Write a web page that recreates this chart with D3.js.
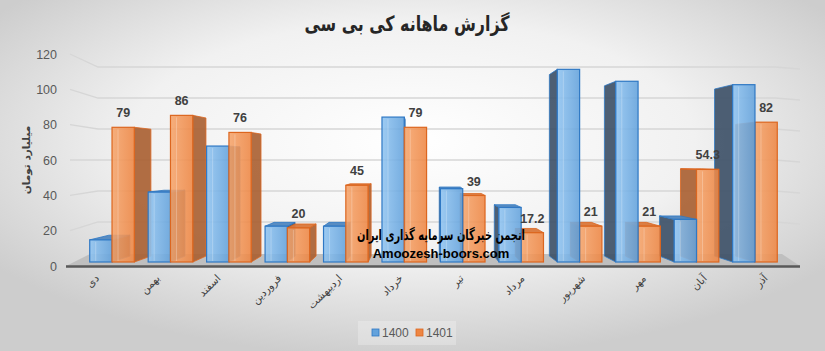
<!DOCTYPE html>
<html>
<head>
	<meta charset="utf-8">
	<title>گزارش ماهانه کی بی سی</title>
	<script src="https://d3js.org/d3.v7.min.js"></script>
	<style>
		body { margin: 0; }
	</style>
</head>
<body>
	<div class="chart"></div>

	<script type="text/javascript">

		// ماه ها
		const months = ['دی', 'بهمن', 'اسفند', 'فروردین', 'اردیبهشت', 'خرداد', 'تیر', 'مرداد', 'شهریور', 'مهر', 'آبان', 'آذر']

		// سری ها
		const seriesNames = ['1400', '1401']
		const values1400 = [13, 41, 68, 21, 21, 85, 43, 32, 113, 106, 25, 104]
		const values1401 = [79, 86, 76, 20, 45, 79, 39, 17.2, 21, 21, 54.3, 82]

		const yTicks = [0, 20, 40, 60, 80, 100, 120]

		var width = 825
		var height = 351

		// نقطه گریز برای نمای سه بعدی
		const vp = [420, 160]
		const depth = 0.058

		const colors = {
			'1400': { front1: '#90c4f1', front2: '#63a2dc', stroke: '#2f78c4', side: '#3b4f66', top: '#4f86bf' },
			'1401': { front1: '#f6a56c', front2: '#ee8643', stroke: '#dc661f', side: '#a85e30', top: '#d9773a' }
		}

		var svg = d3
			.select('.chart')
			.append('svg')
			.attr('width', width)
			.attr('height', height)

		const defs = svg.append('defs')
		const bg = defs.append('radialGradient').attr('id', 'bg').attr('cx', '50%').attr('cy', '40%').attr('r', '62%')
		bg.append('stop').attr('offset', '0%').attr('stop-color', '#ffffff')
		bg.append('stop').attr('offset', '55%').attr('stop-color', '#f1f1f1')
		bg.append('stop').attr('offset', '100%').attr('stop-color', '#cdcdcd')

		seriesNames.forEach(s => {
			const g = defs.append('linearGradient').attr('id', 'grad' + s).attr('x1', '0%').attr('x2', '100%')
			g.append('stop').attr('offset', '0%').attr('stop-color', colors[s].front1)
			g.append('stop').attr('offset', '100%').attr('stop-color', colors[s].front2)
		})

		svg.append('rect').attr('width', width).attr('height', height).attr('fill', 'url(#bg)')

		/**
		 * 比例尺
		 */
		const x = d3.scaleBand()
			.domain(months)
			.range([82.8, 784.2])
			.paddingInner(0.237)
			.paddingOuter(0.1185)

		const xSub = d3.scaleBand()
			.domain(seriesNames)
			.range([0, x.bandwidth()])

		// محور جلو (برچسب ها)
		const yAxisScale = d3.scaleLinear().domain([0, 120]).range([266, 54])
		// دیوار پشتی (خطوط شبکه)
		const yBack = d3.scaleLinear().domain([0, 120]).range([253, 67])
		// صفحه جلوی ستون ها
		const yBar = d3.scaleLinear().domain([0, 120]).range([262, 57.4])

		function proj(px, py, d) {
			return [px + (vp[0] - px) * d, py + (vp[1] - py) * d]
		}

		/**
		 * خطوط شبکه و کف
		 */
		const grid = svg.append('g')
		grid.selectAll('path')
			.data(yTicks.filter(t => t > 0))
			.enter()
			.append('path')
			.attr('fill', 'none')
			.attr('stroke', '#d6d6d6')
			.attr('stroke-width', 1.3)
			.attr('d', t => d3.line()([[70, yAxisScale(t)], [98, yBack(t)], [775, yBack(t)], [800, yBack(t) + 2]]))

		svg.append('path')
			.attr('fill', '#bfbfbf')
			.attr('d', d3.line()([[66, 266], [90, 254], [782, 254], [800, 266]]) + 'Z')

		svg.append('line')
			.attr('x1', 66).attr('x2', 800)
			.attr('y1', 266.5).attr('y2', 266.5)
			.attr('stroke', '#595959')
			.attr('stroke-width', 2.5)

		/**
		 * ستون ها
		 */
		const bars = []
		months.forEach((m, i) => {
			const cx = x(m) + x.bandwidth() / 2
			const group = [
				{ month: m, series: '1400', value: values1400[i] },
				{ month: m, series: '1401', value: values1401[i] }
			]
			const ordered = cx < vp[0] ? group : group.slice().reverse()
			bars.push({ dist: Math.abs(cx - vp[0]), items: ordered })
		})
		bars.sort((a, b) => b.dist - a.dist)

		const barLayer = svg.append('g')

		bars.forEach(grp => {
			grp.items.forEach(d => {
				const x0 = x(d.month) + xSub(d.series)
				const x1 = x0 + xSub.bandwidth()
				const yt = yBar(d.value)
				const yb = yBar(0)
				const c = colors[d.series]
				const g = barLayer.append('g')

				// وجه کناری
				if (x1 < vp[0]) {
					const pts = [[x1, yt], proj(x1, yt, depth), proj(x1, yb, depth), [x1, yb]]
					g.append('path').attr('d', d3.line()(pts) + 'Z')
						.attr('fill', c.side).attr('fill-opacity', 0.9)
						.attr('stroke', c.stroke).attr('stroke-width', 0.8)
				} else if (x0 > vp[0]) {
					const pts = [[x0, yt], proj(x0, yt, depth), proj(x0, yb, depth), [x0, yb]]
					g.append('path').attr('d', d3.line()(pts) + 'Z')
						.attr('fill', c.side).attr('fill-opacity', 0.9)
						.attr('stroke', c.stroke).attr('stroke-width', 0.8)
				}

				// وجه بالایی
				if (yt > vp[1]) {
					const pts = [[x0, yt], proj(x0, yt, depth), proj(x1, yt, depth), [x1, yt]]
					g.append('path').attr('d', d3.line()(pts) + 'Z')
						.attr('fill', c.top).attr('fill-opacity', 0.95)
						.attr('stroke', c.stroke).attr('stroke-width', 0.8)
				}

				// وجه جلو
				g.append('rect')
					.attr('x', x0).attr('y', yt)
					.attr('width', x1 - x0).attr('height', yb - yt)
					.attr('fill', `url(#grad${d.series})`)
					.attr('fill-opacity', 0.88)
					.attr('stroke', c.stroke)
					.attr('stroke-width', 1.2)

				g.append('line')
					.attr('x1', x0 + 6).attr('x2', x0 + 6)
					.attr('y1', yt + 2).attr('y2', yb - 1)
					.attr('stroke', '#ffffff').attr('stroke-opacity', 0.25)
			})
		})

		/**
		 * برچسب مقادیر 1401
		 */
		svg.append('g')
			.selectAll('text')
			.data(months)
			.enter()
			.append('text')
			.attr('x', (m) => x(m) + xSub('1401') + xSub.bandwidth() / 2)
			.attr('y', (m, i) => yBar(values1401[i]) - 10)
			.attr('text-anchor', 'middle')
			.attr('font-family', 'Liberation Sans, Arial, sans-serif')
			.attr('font-weight', 'bold')
			.attr('font-size', 12.5)
			.attr('fill', '#404040')
			.text((m, i) => values1401[i])

		/**
		 * محور ها
		 */
		svg.append('g')
			.selectAll('text')
			.data(yTicks)
			.enter()
			.append('text')
			.attr('x', 57)
			.attr('y', (t) => yAxisScale(t) + 4.5)
			.attr('text-anchor', 'end')
			.attr('font-family', 'Liberation Sans, Arial, sans-serif')
			.attr('font-size', 12.5)
			.attr('fill', '#595959')
			.text((t) => t)

		svg.append('g')
			.selectAll('text')
			.data(months)
			.enter()
			.append('text')
			.attr('transform', (m) => {
				const cx = x(m) + x.bandwidth() / 2
				return `translate(${cx + (cx - vp[0]) * 0.04}, 279) rotate(-45)`
			})
			.attr('text-anchor', 'end')
			.attr('font-family', 'DejaVu Sans, sans-serif')
			.attr('font-size', 10.5)
			.attr('fill', '#404040')
			.text((m) => m)

		svg.append('text')
			.attr('transform', 'translate(30, 160) rotate(-90)')
			.attr('text-anchor', 'middle')
			.attr('font-family', 'DejaVu Sans, sans-serif')
			.attr('font-weight', 'bold')
			.attr('font-size', 10.5)
			.attr('fill', '#404040')
			.text('میلیارد تومان')

		/**
		 * عنوان
		 */
		svg.append('text')
			.attr('x', 407)
			.attr('y', 31)
			.attr('text-anchor', 'middle')
			.attr('textLength', 205)
			.attr('lengthAdjust', 'spacingAndGlyphs')
			.attr('font-family', 'DejaVu Sans, sans-serif')
			.attr('font-weight', 'bold')
			.attr('font-size', 21)
			.attr('fill', '#262626')
			.text('گزارش ماهانه کی بی سی')

		/**
		 * واترمارک
		 */
		svg.append('text')
			.attr('x', 441)
			.attr('y', 240)
			.attr('text-anchor', 'middle')
			.attr('textLength', 168)
			.attr('lengthAdjust', 'spacingAndGlyphs')
			.attr('font-family', 'DejaVu Sans, sans-serif')
			.attr('font-weight', 'bold')
			.attr('font-size', 14.5)
			.attr('fill', '#000000')
			.text('انجمن خبرگان سرمایه گذاری ایران')

		svg.append('text')
			.attr('x', 441)
			.attr('y', 258)
			.attr('text-anchor', 'middle')
			.attr('font-family', 'Liberation Sans, Arial, sans-serif')
			.attr('font-weight', 'bold')
			.attr('font-size', 13)
			.attr('fill', '#000000')
			.text('Amoozesh-boors.com')

		/**
		 * راهنما
		 */
		const legend = svg.append('g')
		legend.append('rect')
			.attr('x', 358).attr('y', 321).attr('width', 98).attr('height', 24)
			.attr('fill', '#ffffff').attr('fill-opacity', 0.25)

		const legendX = d3.scaleOrdinal().domain(seriesNames).range([372, 416])
		const li = legend.selectAll('g.item')
			.data(seriesNames)
			.enter()
			.append('g')
			.attr('class', 'item')
			.attr('transform', (s) => `translate(${legendX(s)}, 329)`)

		li.append('rect')
			.attr('width', 7).attr('height', 7)
			.attr('fill', (s) => colors[s].front2)
			.attr('stroke', (s) => colors[s].stroke)
			.attr('stroke-width', 0.8)

		li.append('text')
			.attr('x', 10)
			.attr('y', 7.5)
			.attr('font-family', 'Liberation Sans, Arial, sans-serif')
			.attr('font-size', 12)
			.attr('fill', '#595959')
			.text((s) => s)

	</script>
</body>
</html>
